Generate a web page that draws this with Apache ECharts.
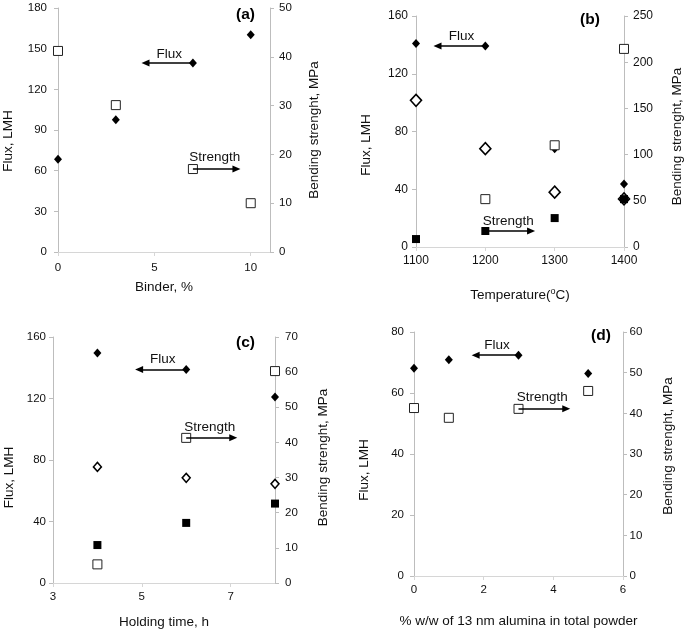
<!DOCTYPE html>
<html>
<head>
<meta charset="utf-8">
<script src="https://cdn.jsdelivr.net/npm/echarts@6/dist/echarts.min.js"></script>
<style>
html,body{margin:0;padding:0;background:#fff;}
#chart{width:685px;height:630px;}
</style>
</head>
<body>
<div id="chart"></div>
<script>
// ---------- data ----------
// (a) binder content
const aBinder = [0, 3, 7, 10];
const aFlux = [68.4, 97.6, 139.4, 160.3];
const aStrength = [41.2, 30.1, 17.0, 10.0];
const aFluxArrowTo = 4.54;      // arrow from binder=7 toward left
const aStrengthArrowTo = 9.26;  // arrow from binder=7 toward right

// (b) sintering temperature
const bTemp = [1100, 1200, 1300, 1400];
const bFlux1 = [140.9, 139.3, 68.1, 43.7];     // small filled diamonds
const bFlux2 = [101.6, 68.1, 38.0, 33.3];      // large open diamonds
const bStrength1 = [null, 51.8, 110.1, 214.4]; // open squares
const bStrength2 = [8.6, 17.3, 31.3, 51.8];    // filled squares
const bFluxArrowTo = 1131;
const bStrengthArrowTo = 1266;

// (c) holding time
const cTime = [4, 6, 8];
const cFlux1 = [149.6, 138.9, 121.0];
const cFlux2 = [75.5, 68.4, 64.5];
const cStrength1 = [5.3, 41.3, 60.3];
const cStrength2 = [10.8, 17.1, 22.6];
const cFluxArrowTo = 4.94;
const cStrengthArrowTo = 7.06;

// (d) nano alumina content
const dAlumina = [0, 1, 3, 5];
const dFlux = [68.1, 70.9, 72.4, 66.4];
const dStrength = [41.3, 38.9, 41.1, 45.5];
const dFluxArrowTo = 1.77;
const dStrengthArrowTo = 4.37;

// axis tick setups
const xTicks = {a:[0, 11, 5], b:[1100, 1400, 100], c:[3, 8, 2], d:[0, 6, 2]};
const yLeftTicks = {a:[0, 180, 30], b:[0, 160, 40], c:[0, 160, 40], d:[0, 80, 20]};
const yRightTicks = {a:[0, 50, 10], b:[0, 250, 50], c:[0, 70, 10], d:[0, 60, 10]};

// ---------- helpers ----------
const FONT = '"Liberation Sans", Arial, sans-serif';
const TXT = '#111';
const YAXIS = '#bdbdbd';
const XAXIS = '#d6d6d6';

function pts(xs, ys){
  const out = [];
  xs.forEach((x,i)=>{ if(ys[i]!==null && ys[i]!==undefined) out.push([x, ys[i]]); });
  return out;
}

function xAxisCfg(grid, t, name, gap, margin, hideMax, fs){
  return {
    type:'value', gridIndex:grid, min:t[0], max:t[1], interval:t[2],
    name:name, nameLocation:'middle', nameGap:gap,
    nameTextStyle:{fontFamily:FONT, fontSize:13.5, color:TXT},
    axisLine:{show:true, lineStyle:{color:XAXIS, width:1}},
    axisTick:{show:true, length:4, lineStyle:{color:XAXIS}},
    axisLabel:{fontFamily:FONT, fontSize:fs||11.5, color:TXT, margin:margin, showMaxLabel: hideMax?false:true,
      formatter:function(v){return String(v);}},
    splitLine:{show:false}
  };
}
function yAxisCfg(grid, t, pos, name, gap, margin, shift, fs){
  const pad = shift>=0 ? [0, 2*shift, 0, 0] : [0, 0, 0, -2*shift];
  return {
    type:'value', gridIndex:grid, position:pos, min:t[0], max:t[1], interval:t[2],
    name:name, nameLocation:'middle', nameGap:gap, nameRotate:90,
    nameTextStyle:{fontFamily:FONT, fontSize:13.5, color:TXT, padding:pad},
    axisLine:{show:true, lineStyle:{color:YAXIS, width:1}},
    axisTick:{show:true, length:4, lineStyle:{color:YAXIS}},
    axisLabel:{fontFamily:FONT, fontSize:fs||11.5, color:TXT, margin:margin,
      formatter:function(v){return String(v);}},
    splitLine:{show:false}
  };
}

const filledDiamond = {symbol:'diamond', symbolSize:[8,9], itemStyle:{color:'#000', borderWidth:0, opacity:1}};
const bigOpenDiamond = {symbol:'diamond', symbolSize:[11,12], itemStyle:{color:'#fff', borderColor:'#000', borderWidth:1.6, opacity:1}};
const openDiamond = {symbol:'diamond', symbolSize:[8,9], itemStyle:{color:'#fff', borderColor:'#000', borderWidth:1.5, opacity:1}};
const openSquare = {symbol:'rect', symbolSize:9, itemStyle:{color:'#fff', borderColor:'#222', borderWidth:1, opacity:1}};
const filledSquare = {symbol:'rect', symbolSize:8, itemStyle:{color:'#000', borderWidth:0, opacity:1}};

function scatter(xi, yi, data, style, z){
  return Object.assign({type:'scatter', xAxisIndex:xi, yAxisIndex:yi, data:data, silent:true, z:z||2,
    animation:false}, JSON.parse(JSON.stringify(style)));
}
function arrow(fromX, y, toX, text, dist){
  return {
    silent:true, animation:false, symbol:['none','triangle'], symbolSize:[0, 8], precision:4,
    lineStyle:{color:'#000', width:1.6, type:'solid', opacity:1},
    label:{show:true, formatter:text, position:'insideMiddleTop', distance:dist,
      fontFamily:FONT, fontSize:13.5, color:TXT},
    emphasis:{disabled:true},
    data:[[{coord:[fromX, y], symbol:'none'}, {coord:[toX, y], symbol:'triangle', symbolSize:[7,8]}]]
  };
}

// ---------- series ----------
const series = [];
// (a)
let s = scatter(0, 0, pts(aBinder, aFlux), filledDiamond, 3);
s.markLine = arrow(aBinder[2], aFlux[2], aFluxArrowTo, 'Flux', 2);
series.push(s);
s = scatter(0, 1, pts(aBinder, aStrength), openSquare, 3);
s.markLine = arrow(aBinder[2], aStrength[2], aStrengthArrowTo, 'Strength', 5);
series.push(s);
// (b)
series.push(scatter(1, 2, pts(bTemp, bFlux2), bigOpenDiamond, 2));
s = scatter(1, 2, pts(bTemp, bFlux1), filledDiamond, 3);
s.markLine = arrow(bTemp[1], bFlux1[1], bFluxArrowTo, 'Flux', 3);
series.push(s);
series.push(scatter(1, 3, pts(bTemp, bStrength1), openSquare, 3));
s = scatter(1, 3, pts(bTemp, bStrength2), filledSquare, 4);
s.markLine = arrow(bTemp[1], bStrength2[1], bStrengthArrowTo, 'Strength', 3);
series.push(s);
// (c)
s = scatter(2, 4, pts(cTime, cFlux1), filledDiamond, 3);
s.markLine = arrow(cTime[1], cFlux1[1], cFluxArrowTo, 'Flux', 3);
series.push(s);
series.push(scatter(2, 4, pts(cTime, cFlux2), openDiamond, 3));
s = scatter(2, 5, pts(cTime, cStrength1), openSquare, 3);
s.markLine = arrow(cTime[1], cStrength1[1], cStrengthArrowTo, 'Strength', 4);
series.push(s);
series.push(scatter(2, 5, pts(cTime, cStrength2), filledSquare, 3));
// (d)
s = scatter(3, 6, pts(dAlumina, dFlux), filledDiamond, 4);
s.markLine = arrow(dAlumina[2], dFlux[2], dFluxArrowTo, 'Flux', 3);
series.push(s);
s = scatter(3, 7, pts(dAlumina, dStrength), openSquare, 3);
s.markLine = arrow(dAlumina[2], dStrength[2], dStrengthArrowTo, 'Strength', 5);
series.push(s);

const chart = echarts.init(document.getElementById('chart'), null, {renderer:'canvas'});
chart.setOption({
  backgroundColor:'#fff',
  animation:false,
  grid:[
    {left:58, top:8, width:212, height:244},
    {left:416, top:16, width:208, height:231},
    {left:53, top:337, width:222, height:247},
    {left:414, top:332, width:209, height:244}
  ],
  xAxis:[
    xAxisCfg(0, xTicks.a, 'Binder, %', 28, 10, true),
    Object.assign(xAxisCfg(1, xTicks.b, '{n|Temperature(}{s|o}{n|C)}', 40, 8, false, 12), {
      nameTextStyle:{fontFamily:FONT, fontSize:13.5, color:TXT,
        rich:{n:{fontFamily:FONT, fontSize:13.5, color:TXT, lineHeight:16},
              s:{fontFamily:FONT, fontSize:9, color:TXT, lineHeight:16, verticalAlign:'top', padding:[0,0,6,0]}}}
    }),
    xAxisCfg(2, xTicks.c, 'Holding time, h', 32, 8, true),
    xAxisCfg(3, xTicks.d, '% w/w of 13 nm alumina in total powder', 38.5, 8, false)
  ],
  yAxis:[
    yAxisCfg(0, yLeftTicks.a, 'left', 'Flux, LMH', 43, 11, 11),
    yAxisCfg(0, yRightTicks.a, 'right', 'Bending strenght, MPa', 37, 9, 0),
    yAxisCfg(1, yLeftTicks.b, 'left', 'Flux, LMH', 43, 8, 13.5, 12),
    yAxisCfg(1, yRightTicks.b, 'right', 'Bending strenght, MPa', 46, 9, 5, 12),
    yAxisCfg(2, yLeftTicks.c, 'left', 'Flux, LMH', 36.5, 7, 17.5),
    yAxisCfg(2, yRightTicks.c, 'right', 'Bending strenght, MPa', 41.5, 10, -2.5),
    yAxisCfg(3, yLeftTicks.d, 'left', 'Flux, LMH', 42.5, 10, 16),
    yAxisCfg(3, yRightTicks.d, 'right', 'Bending strenght, MPa', 38.5, 6.5, -8)
  ],
  graphic:[
    {type:'text', left:236, top:7, style:{text:'(a)', font:'bold 15.5px "Liberation Sans", Arial, sans-serif', fill:'#000'}},
    {type:'text', left:580, top:12, style:{text:'(b)', font:'bold 15.5px "Liberation Sans", Arial, sans-serif', fill:'#000'}},
    {type:'text', left:236, top:335, style:{text:'(c)', font:'bold 15.5px "Liberation Sans", Arial, sans-serif', fill:'#000'}},
    {type:'text', left:591, top:328, style:{text:'(d)', font:'bold 15.5px "Liberation Sans", Arial, sans-serif', fill:'#000'}}
  ],
  series:series
});
</script>
</body>
</html>
